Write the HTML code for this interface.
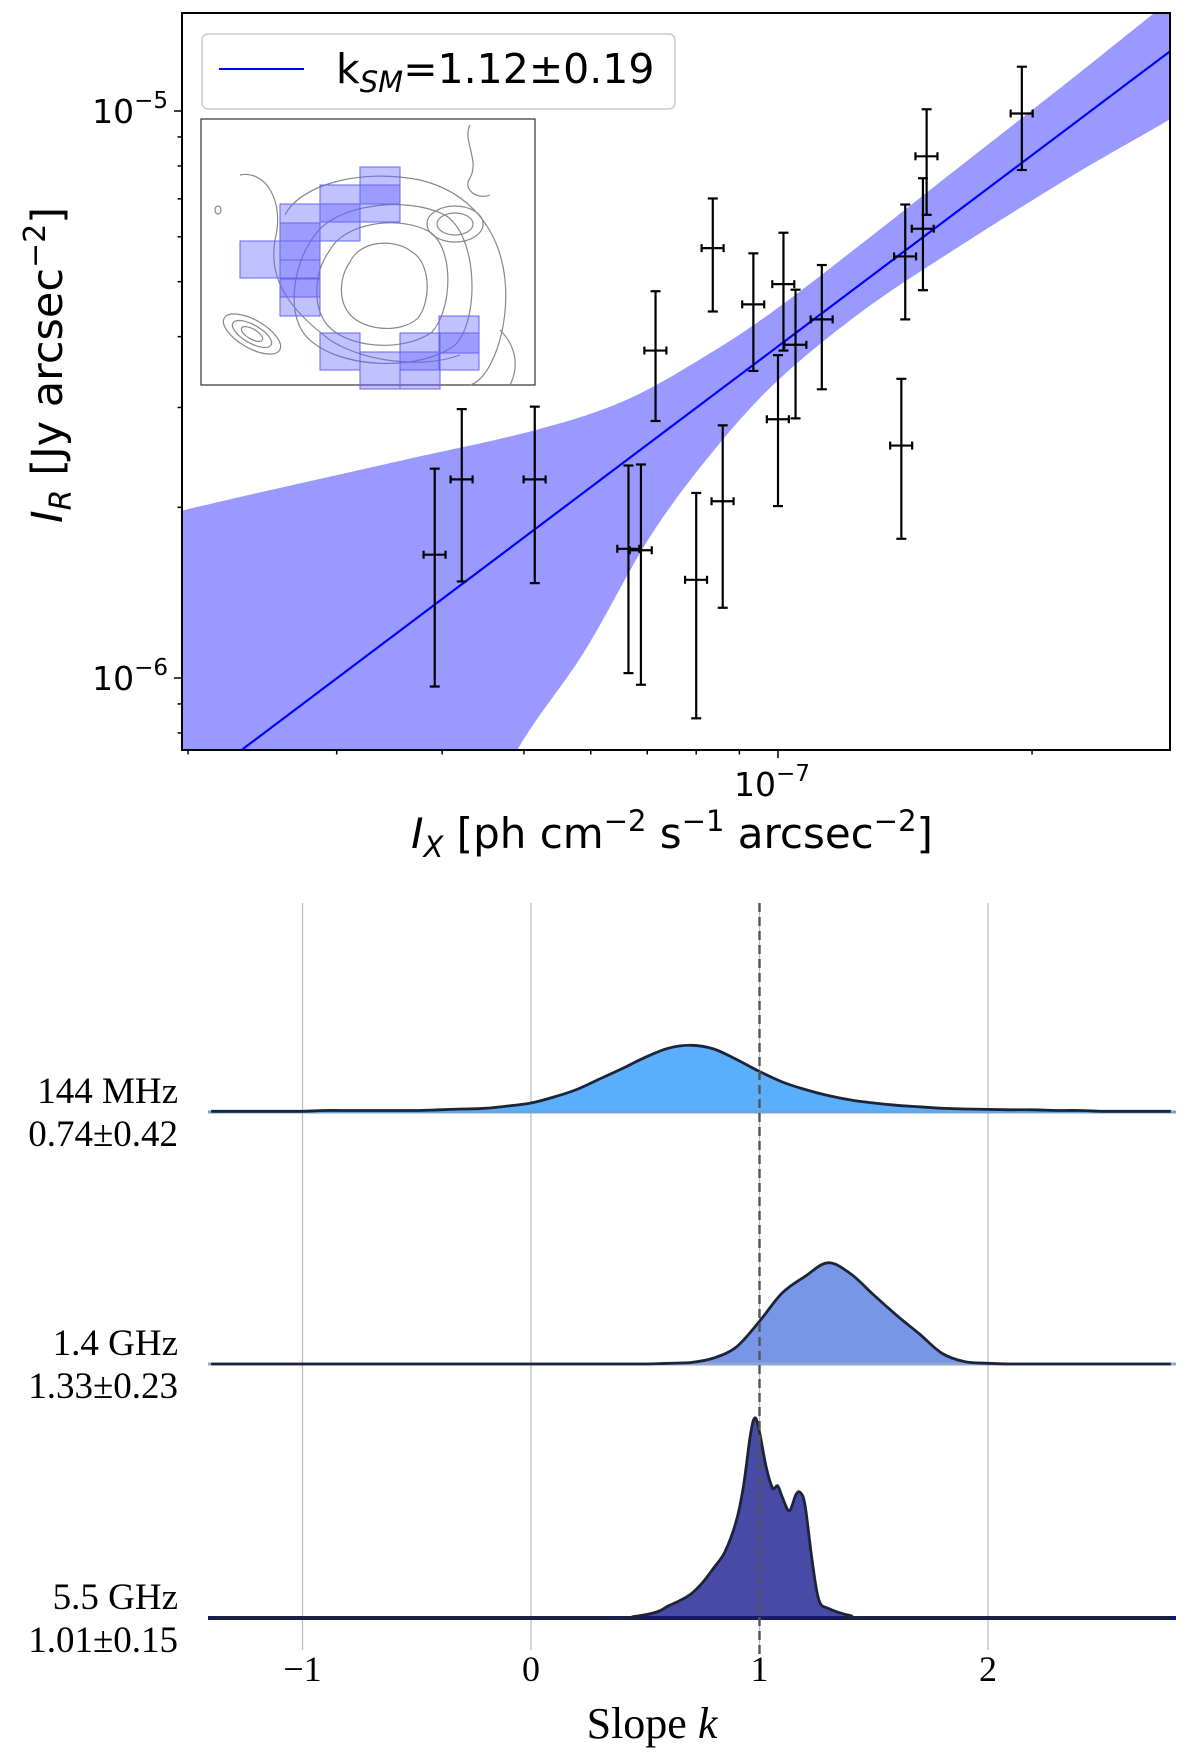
<!DOCTYPE html>
<html><head><meta charset="utf-8"><style>
html,body{margin:0;padding:0;background:#fff;}
svg{display:block;}
</style></head><body>
<svg id="fig" width="1200" height="1763" viewBox="0 0 1200 1763" xmlns="http://www.w3.org/2000/svg">
<defs><clipPath id="clipTop"><rect x="182" y="13" width="988" height="737"/></clipPath></defs>
<g id="topPanel"></g>
<g id="bottomPanel"></g>
</svg>
<script>
// ---------- top panel data ----------
const ixVals = [3.92e-8,4.22e-8,5.15e-8,6.65e-8,6.88e-8,7.16e-8,8.00e-8,8.37e-8,8.60e-8,9.35e-8,1.00e-7,1.015e-7,1.049e-7,1.127e-7,1.40e-7,1.415e-7,1.485e-7,1.50e-7,1.945e-7];
const irVals = [1.65e-6,2.24e-6,2.24e-6,1.69e-6,1.68e-6,3.78e-6,1.49e-6,5.73e-6,2.05e-6,4.56e-6,2.86e-6,4.95e-6,3.87e-6,4.29e-6,2.57e-6,5.54e-6,6.2e-6,8.32e-6,9.9e-6];
const irHigh = [2.34e-6,2.98e-6,3.01e-6,2.37e-6,2.38e-6,4.81e-6,2.12e-6,7.01e-6,2.79e-6,5.61e-6,3.71e-6,6.10e-6,4.84e-6,5.35e-6,3.37e-6,6.84e-6,7.61e-6,1.007e-5,1.197e-5];
const irLow = [0.966e-6,1.48e-6,1.47e-6,1.02e-6,0.973e-6,2.84e-6,0.849e-6,4.43e-6,1.33e-6,3.48e-6,2.01e-6,3.78e-6,2.87e-6,3.23e-6,1.76e-6,4.29e-6,4.83e-6,6.56e-6,7.87e-6];
const ixErrFrac = 0.03;
const kSM = 1.12;
const fitLogYAt1e7 = -5.415;
// confidence band half-widths (dex) vs log10(I_X)
const bandUpLogX = [-7.75,-7.706,-7.442,-7.283,-7.178,-7.071,-7.0,-6.9,-6.8,-6.65,-6.534,-6.5];
const bandUpDex  = [0.53,0.501,0.295,0.171,0.106,0.076,0.068,0.07,0.075,0.082,0.09,0.092];
const bandLoLogX = [-7.75,-7.6,-7.45,-7.309,-7.23,-7.15,-7.071,-7.0,-6.9,-6.8,-6.65,-6.534,-6.5];
const bandLoDex  = [1.1,0.85,0.6,0.366,0.282,0.164,0.095,0.06,0.05,0.062,0.09,0.12,0.125];
const yMajorTicks = [1e-6,1e-5];
const yMinorTicks = [8e-7,9e-7,2e-6,3e-6,4e-6,5e-6,6e-6,7e-6,8e-6,9e-6];
const xMajorTicks = [1e-7];
const xMinorTicks = [2e-8,3e-8,4e-8,5e-8,6e-8,7e-8,8e-8,9e-8,2e-7];

// ---------- bottom panel data ----------
const ridgeNames = ["144 MHz","1.4 GHz","5.5 GHz"];
const ridgeFits = ["0.74±0.42","1.33±0.23","1.01±0.15"];
const kGrid = [-1.4,-1.3,-1.2,-1.1,-1.0,-0.9,-0.8,-0.7,-0.6,-0.5,-0.4,-0.3,-0.2,-0.1,0,0.1,0.2,0.3,0.4,0.5,0.6,0.7,0.8,0.9,1.0,1.1,1.2,1.3,1.4,1.5,1.6,1.7,1.8,1.9,2.0,2.1,2.2,2.3,2.4,2.5,2.6,2.7,2.8];
const dens144 = [0.01,0.01,0.01,0.01,0.01,0.02,0.02,0.02,0.02,0.02,0.03,0.04,0.05,0.08,0.12,0.2,0.3,0.44,0.58,0.73,0.85,0.89,0.84,0.7,0.54,0.4,0.3,0.22,0.16,0.12,0.09,0.07,0.05,0.04,0.035,0.03,0.03,0.02,0.02,0.01,0.01,0.01,0.01];
const dens14 = [0,0,0,0,0,0,0,0,0,0,0,0,0,0,0,0,0,0,0,0,0.01,0.02,0.08,0.23,0.57,0.95,1.17,1.35,1.2,0.92,0.65,0.4,0.14,0.03,0.01,0,0,0,0,0,0,0,0];
const kGrid55 = [-1.4,0.3,0.45,0.55,0.6,0.65,0.7,0.75,0.8,0.85,0.9,0.93,0.96,0.98,1.0,1.03,1.06,1.08,1.1,1.13,1.16,1.18,1.2,1.23,1.26,1.3,1.4,1.5,2.8];
const dens55 = [0,0,0.02,0.08,0.16,0.23,0.32,0.47,0.67,0.89,1.31,1.76,2.44,2.67,2.48,2.0,1.72,1.76,1.61,1.43,1.65,1.67,1.49,0.77,0.24,0.13,0.03,0,0];
const kTicks = [-1,0,1,2];
const kTickLabels = ["−1","0","1","2"];
const refSlope = 1;

const NS="http://www.w3.org/2000/svg";
function mk(parent,tag,attrs,txt){const e=document.createElementNS(NS,tag);for(const k in attrs)e.setAttribute(k,attrs[k]);if(txt!==undefined)e.textContent=txt;parent.appendChild(e);return e;}
function interp(xs,ys,x){ // Hermite interpolation with non-uniform tangents
 if(x<=xs[0])return ys[0]; if(x>=xs[xs.length-1])return ys[ys.length-1];
 let i=0; while(x>xs[i+1])i++;
 const n=xs.length;
 const slope=j=>{const a=Math.max(0,j-1),b=Math.min(n-1,j+1);return (ys[b]-ys[a])/(xs[b]-xs[a]);};
 const h=xs[i+1]-xs[i];
 const t=(x-xs[i])/h;
 const m1=slope(i)*h,m2=slope(i+1)*h;
 const t2=t*t,t3=t2*t;
 return (2*t3-3*t2+1)*ys[i]+(t3-2*t2+t)*m1+(-2*t3+3*t2)*ys[i+1]+(t3-t2)*m2;}

// ---------- top panel ----------
const topG=document.getElementById('topPanel');
const L=182,R=1170,T=13,B=750;
const X=v=>778+(Math.log10(v)+7)*844;
const Y=v=>111-(Math.log10(v)+5)*567;
const lxMin=-7+(L-778)/844, lxMax=-7+(R-778)/844;
const fitLog=lx=>fitLogYAt1e7+kSM*(lx+7);
const pxL=lx=>778+(lx+7)*844, pyL=ly=>111-(ly+5)*567;

const clip=mk(topG,'g',{'clip-path':'url(#clipTop)'});


let up=[],lo=[];
for(let i=0;i<=300;i++){const lx=lxMin-0.01+(lxMax-lxMin+0.02)*i/300;
 const f=fitLog(lx);
 up.push(pxL(lx).toFixed(1)+','+pyL(f+interp(bandUpLogX,bandUpDex,lx)).toFixed(1));
 lo.unshift(pxL(lx).toFixed(1)+','+pyL(f-interp(bandLoLogX,bandLoDex,lx)).toFixed(1));}
const band=mk(clip,'polygon',{points:up.concat(lo).join(' '),fill:'#9999ff'});


const fl=mk(clip,'line',{x1:pxL(lxMin),y1:pyL(fitLog(lxMin)),x2:pxL(lxMax),y2:pyL(fitLog(lxMax)),stroke:'#0000ff','stroke-width':2.2});


for(let i=0;i<ixVals.length;i++){
 const g=mk(clip,'g',{stroke:'#000','stroke-width':2.2,fill:'none'});
 
 
 const x=X(ixVals[i]),y=Y(irVals[i]),yt=Y(irHigh[i]),yb=Y(irLow[i]);
 const xl=X(ixVals[i]*(1-ixErrFrac)),xr=X(ixVals[i]*(1+ixErrFrac));
 mk(g,'line',{x1:x,y1:yt,x2:x,y2:yb});
 mk(g,'line',{x1:x-5,y1:yt,x2:x+5,y2:yt});
 mk(g,'line',{x1:x-5,y1:yb,x2:x+5,y2:yb});
 mk(g,'line',{x1:xl,y1:y,x2:xr,y2:y});
 mk(g,'line',{x1:xl,y1:y-4,x2:xl,y2:y+4});
 mk(g,'line',{x1:xr,y1:y-4,x2:xr,y2:y+4});
}
// inset
const inset=mk(topG,'g',{});


mk(inset,'rect',{x:201,y:119,width:334,height:266,fill:'#fff',stroke:'#333','stroke-width':1.2});
const cont=mk(inset,'g',{fill:'none',stroke:'#888','stroke-width':1.2});
mk(cont,'path',{d:'M350,262 C360,240 395,238 412,252 C430,262 432,300 418,318 C400,335 360,330 348,312 C338,298 340,276 350,262Z'});
mk(cont,'path',{d:'M330,250 C345,222 400,215 430,232 C455,250 452,310 432,332 C405,352 345,350 325,322 C312,302 315,270 330,250Z'});
mk(cont,'path',{d:'M315,235 C335,205 405,195 445,215 C478,235 480,320 455,345 C420,372 335,370 305,335 C285,310 295,260 315,235Z'});
mk(cont,'path',{d:'M285,215 C300,185 360,168 420,180 C470,192 500,230 505,280 C510,330 490,380 470,385'});
mk(cont,'path',{d:'M240,175 C265,170 285,200 275,240 C268,280 290,310 330,340 C360,360 420,370 460,355'});
mk(cont,'path',{d:'M470,125 C462,140 480,160 470,178 C462,190 478,200 490,195'});
mk(cont,'path',{d:'M500,330 C515,345 520,365 510,385'});
mk(cont,'ellipse',{cx:455,cy:224,rx:18,ry:11});
mk(cont,'ellipse',{cx:455,cy:224,rx:28,ry:18});
mk(cont,'ellipse',{cx:252,cy:334,rx:12,ry:5,transform:'rotate(30 252 334)'});
mk(cont,'ellipse',{cx:252,cy:334,rx:22,ry:9,transform:'rotate(30 252 334)'});
mk(cont,'ellipse',{cx:252,cy:334,rx:32,ry:14,transform:'rotate(30 252 334)'});
mk(cont,'ellipse',{cx:218,cy:210,rx:3,ry:4});
const cells=[[360,167],[360,185],[320,185],[320,204],[280,204],[280,223],[240,241],[280,241],[280,260],[280,279],[320,333],[360,352],[400,333],[400,352],[439,316],[439,333]];
const cg=mk(inset,'g',{fill:'rgba(100,100,255,0.4)',stroke:'#6666ee','stroke-width':1});
cells.forEach(c=>{const r=mk(cg,'rect',{x:c[0],y:c[1],width:40,height:37});
 
 });
mk(topG,'rect',{x:L,y:T,width:R-L,height:B-T,fill:'none',stroke:'#000','stroke-width':2});
const ax=mk(topG,'g',{stroke:'#000','stroke-width':1.5});
yMajorTicks.forEach(v=>mk(ax,'line',{x1:L-8,y1:Y(v),x2:L,y2:Y(v)}));
yMinorTicks.forEach(v=>mk(ax,'line',{x1:L-4.5,y1:Y(v),x2:L,y2:Y(v)}));
xMajorTicks.forEach(v=>mk(ax,'line',{x1:X(v),y1:B,x2:X(v),y2:B+8}));
xMinorTicks.forEach(v=>mk(ax,'line',{x1:X(v),y1:B,x2:X(v),y2:B+4.5}));
const tf='font-family:"DejaVu Sans","Liberation Sans",sans-serif;';
yMajorTicks.forEach(v=>{const e=Math.round(Math.log10(v));
 const t=mk(topG,'text',{x:L-14,y:Y(v)+12,'text-anchor':'end',style:tf+'font-size:33px'});
 
 
 mk(t,'tspan',{},'10');mk(t,'tspan',{dy:-15,style:'font-size:23px'},'−'+(-e));});
xMajorTicks.forEach(v=>{const e=Math.round(Math.log10(v));
 const t=mk(topG,'text',{x:X(v)-6,y:B+46,'text-anchor':'middle',style:tf+'font-size:33px'});
 
 
 mk(t,'tspan',{},'10');mk(t,'tspan',{dy:-15,style:'font-size:23px'},'−'+(-e));});
const leg=mk(topG,'g',{});


mk(leg,'rect',{x:202,y:34,width:473,height:75,rx:6,fill:'#fff',stroke:'#ccc','stroke-width':1.5});
mk(leg,'line',{x1:219,y1:69,x2:304,y2:69,stroke:'#0000ff','stroke-width':2});
const lt=mk(leg,'text',{x:336,y:83,style:tf+'font-size:41px'});
mk(lt,'tspan',{},'k');mk(lt,'tspan',{dy:9,style:'font-size:29px;font-style:italic'},'SM');mk(lt,'tspan',{dy:-9},'='+kSM.toFixed(2)+'±0.19');
const yTitle=mk(topG,'text',{transform:'translate(62,365) rotate(-90)','text-anchor':'middle',style:tf+'font-size:43px'});


mk(yTitle,'tspan',{style:'font-style:italic'},'I');mk(yTitle,'tspan',{dy:9,style:'font-size:30px;font-style:italic'},'R');
mk(yTitle,'tspan',{dy:-9},' [Jy arcsec');mk(yTitle,'tspan',{dy:-17,style:'font-size:30px'},'−2');mk(yTitle,'tspan',{dy:17},']');
const xTitle=mk(topG,'text',{x:672,y:848,'text-anchor':'middle',style:tf+'font-size:42px'});


mk(xTitle,'tspan',{style:'font-style:italic'},'I');mk(xTitle,'tspan',{dy:9,style:'font-size:29px;font-style:italic'},'X');
mk(xTitle,'tspan',{dy:-9},' [ph cm');mk(xTitle,'tspan',{dy:-17,style:'font-size:29px'},'−2');
mk(xTitle,'tspan',{dy:17},' s');mk(xTitle,'tspan',{dy:-17,style:'font-size:29px'},'−1');
mk(xTitle,'tspan',{dy:17},' arcsec');mk(xTitle,'tspan',{dy:-17,style:'font-size:29px'},'−2');mk(xTitle,'tspan',{dy:17},']');

// ---------- bottom panel ----------
const botG=document.getElementById('bottomPanel');
const K=k=>531+k*228.5;
const BL=208,BR=1176;
const baselines=[1112,1364,1618];
const dScale=75;
const fills=['#5aaefa','#7896e6','#474ba6'];
const baseStroke=['#6aa6d8','#8fa6cf','#151a66'];
const sf='font-family:"Liberation Serif",serif;';
kTicks.forEach((k,i)=>{const l=mk(botG,'line',{x1:K(k),y1:903,x2:K(k),y2:1650,stroke:'#bbb','stroke-width':1.2});
 
 
 const t=mk(botG,'text',{x:K(k),y:1681,'text-anchor':'middle',style:sf+'font-size:36px'},kTickLabels[i]);
 
 });
function smoothPath(pts){let d='M'+pts[0][0].toFixed(1)+','+pts[0][1].toFixed(1);
 for(let i=0;i<pts.length-1;i++){const p0=pts[Math.max(0,i-1)],p1=pts[i],p2=pts[i+1],p3=pts[Math.min(pts.length-1,i+2)];
  const c1x=p1[0]+(p2[0]-p0[0])/6,c1y=p1[1]+(p2[1]-p0[1])/6,c2x=p2[0]-(p3[0]-p1[0])/6,c2y=p2[1]-(p3[1]-p1[1])/6;
  d+=' C'+c1x.toFixed(1)+','+Math.min(c1y,Math.max(p1[1],p2[1])).toFixed(1)+' '+c2x.toFixed(1)+','+Math.min(c2y,Math.max(p1[1],p2[1])).toFixed(1)+' '+p2[0].toFixed(1)+','+p2[1].toFixed(1);}
 return d;}
const series=[[kGrid,dens144],[kGrid,dens14],[kGrid55,dens55]];
series.forEach((s,i)=>{const g=mk(botG,'g',{});
 
 
 const b=baselines[i];
 const pts=s[0].map((k,j)=>[Math.max(BL,Math.min(BR,K(k))),b-s[1][j]*dScale]);
 const line=smoothPath(pts);
 mk(g,'path',{d:line+' L'+pts[pts.length-1][0]+','+b+' L'+pts[0][0]+','+b+'Z',fill:fills[i]});
 mk(g,'line',{x1:BL,y1:b,x2:BR,y2:b,stroke:baseStroke[i],'stroke-width':i==2?4:3});
 mk(g,'path',{d:line,fill:'none',stroke:'#1c2438','stroke-width':2.8,'stroke-linejoin':'round'});
 const n=mk(g,'text',{x:178,y:b-9,'text-anchor':'end',style:sf+'font-size:37px'},ridgeNames[i]);
 
 
 const f=mk(g,'text',{x:178,y:b+34,'text-anchor':'end',style:sf+'font-size:37px'},ridgeFits[i]);
 
 });
const dashL=mk(botG,'line',{x1:K(refSlope),y1:903,x2:K(refSlope),y2:1655,stroke:'#555','stroke-width':2.4,'stroke-dasharray':'9,5'});


const st=mk(botG,'text',{x:652,y:1738,'text-anchor':'middle',style:sf+'font-size:44px'});


mk(st,'tspan',{},'Slope ');mk(st,'tspan',{style:'font-style:italic'},'k');
</script>
</body></html>
